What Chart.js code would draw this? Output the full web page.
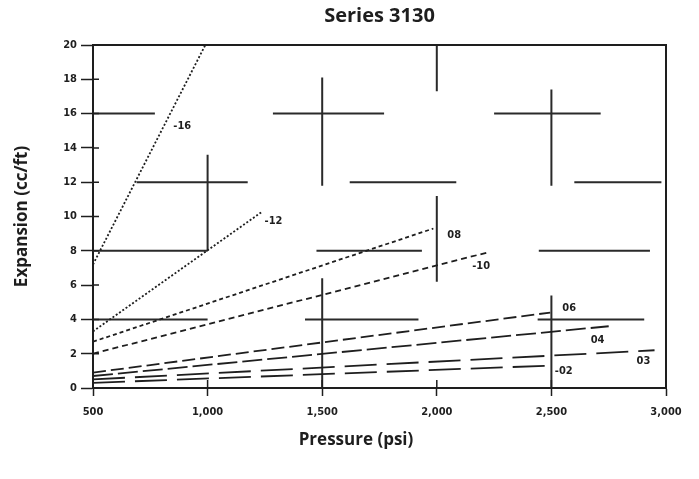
<!DOCTYPE html>
<html>
<head>
<meta charset="utf-8">
<script src="https://cdn.jsdelivr.net/npm/chart.js@4.4.0/dist/chart.umd.min.js"></script>
<style>
html, body { margin: 0; padding: 0; background: #fff; }
#wrap { width: 699px; height: 479px; }
</style>
</head>
<body>
<div id="wrap"><canvas id="myChart" width="699" height="479"></canvas></div>
<script>
// curves (pressure psi -> expansion cc/ft)
var curveNames = ['-16', '-12', '08', '-10', '06', '04', '03', '-02'];
var curveStartPsi = [500, 500, 500, 500, 500, 500, 500, 500];
var curveStartCc = [7.2, 3.3, 2.7, 2.0, 0.9, 0.7, 0.5, 0.3];
var curveEndPsi = [990, 1240, 1985, 2220, 2495, 2750, 2950, 2480];
var curveEndCc = [20, 10.3, 9.3, 7.9, 4.4, 3.6, 2.2, 1.3];

// leftover grid strokes of the scanned sheet
var gridHy = [16, 12, 8, 4, 16, 12, 8, 4, 16, 12, 8, 4];
var gridHx1 = [500, 690, 500, 500, 1285, 1620, 1475, 1425, 2250, 2600, 2445, 2440];
var gridHx2 = [770, 1175, 1000, 1000, 1770, 2085, 1935, 1920, 2715, 2980, 2930, 2905];
var gridVx = [1000, 1500, 2000, 2000, 2500, 1500, 2500];
var gridVy1 = [8, 11.8, 17.3, 6.2, 11.8, 0, 0];
var gridVy2 = [13.6, 18.1, 20, 11.2, 17.4, 6.4, 5.4];

var xTickValues = [500, 1000, 1500, 2000, 2500, 3000];
var xTickLabels = ['500', '1,000', '1,500', '2,000', '2,500', '3,000'];
var yTickLabels = ['0', '2', '4', '6', '8', '10', '12', '14', '16', '18', '20'];

var ink = '#1e1e1e';
var tickFont = { family: '"Liberation Sans Narrow", "DejaVu Sans Condensed", sans-serif', size: 11, weight: 'bold' };
var dashes = [[2, 2], [2, 2], [4, 3], [6, 4], [13, 5], [20, 5], [32, 10], [32, 10]];
// label offsets from each curve's end point, in pixels
var labelOffsets = [[-32, 81], [2, 10], [14, 7], [-15, 14], [12, -4], [-18, 14], [-18, 11], [8, 5]];

var datasets = [];
for (var i = 0; i < curveNames.length; i++) {
    datasets.push({
        label: curveNames[i],
        data: [{ x: curveStartPsi[i], y: curveStartCc[i] }, { x: curveEndPsi[i], y: curveEndCc[i] }],
        showLine: true,
        borderColor: ink,
        borderWidth: 1.8,
        borderDash: dashes[i],
        pointRadius: 0
    });
}

var gridPts = [];
for (var h = 0; h < gridHy.length; h++) {
    gridPts.push({ x: gridHx1[h], y: gridHy[h] }, { x: gridHx2[h], y: gridHy[h] }, { x: gridHx2[h], y: null });
}
for (var v = 0; v < gridVx.length; v++) {
    gridPts.push({ x: gridVx[v], y: gridVy1[v] }, { x: gridVx[v], y: gridVy2[v] }, { x: gridVx[v], y: null });
}
datasets.push({
    label: 'grid',
    data: gridPts,
    showLine: true,
    spanGaps: false,
    borderColor: '#2a2a2a',
    borderWidth: 2,
    pointRadius: 0
});

var extras = {
    id: 'extras',
    afterDraw: function (chart) {
        var ctx = chart.ctx;
        var a = chart.chartArea;
        var xs = chart.scales.x, ys = chart.scales.y;
        ctx.save();
        ctx.strokeStyle = ink;
        ctx.lineWidth = 2;
        ctx.beginPath();
        ctx.moveTo(a.left, a.top);
        ctx.lineTo(a.right, a.top);
        ctx.lineTo(a.right, a.bottom);
        ctx.stroke();
        // inner half of the tick marks
        ctx.lineWidth = 1.5;
        ctx.beginPath();
        xs.ticks.forEach(function (t) {
            var px = xs.getPixelForValue(t.value);
            ctx.moveTo(px, a.bottom);
            ctx.lineTo(px, a.bottom - 8);
        });
        ys.ticks.forEach(function (t) {
            var py = ys.getPixelForValue(t.value);
            ctx.moveTo(a.left, py);
            ctx.lineTo(a.left + 6, py);
        });
        ctx.stroke();
        // curve labels
        ctx.fillStyle = ink;
        ctx.font = 'bold 11px "Liberation Sans Narrow", "DejaVu Sans Condensed", sans-serif';
        ctx.textBaseline = 'middle';
        ctx.textAlign = 'left';
        for (var i = 0; i < curveNames.length; i++) {
            var ex = xs.getPixelForValue(curveEndPsi[i]);
            var ey = ys.getPixelForValue(curveEndCc[i]);
            ctx.fillText(curveNames[i], ex + labelOffsets[i][0], ey + labelOffsets[i][1]);
        }
        // x axis title
        ctx.font = 'bold 17px "Open Sans", sans-serif';
        ctx.textAlign = 'center';
        ctx.fillText('Pressure (psi)', 356, 440);
        ctx.restore();
    }
};

const ctx = document.getElementById('myChart').getContext('2d');
const myChart = new Chart(ctx, {
    type: 'scatter',
    data: { datasets: datasets },
    options: {
        responsive: false,
        animation: false,
        layout: { padding: { left: 0, right: 33, top: 0, bottom: 0 } },
        plugins: {
            legend: { display: false },
            tooltip: { enabled: false },
            title: {
                display: true,
                fullSize: false,
                text: 'Series 3130',
                color: ink,
                font: { family: '"Open Sans", sans-serif', size: 20, weight: 'bold' },
                padding: { top: 4, bottom: 17 }
            }
        },
        scales: {
            x: {
                type: 'linear',
                min: 500,
                max: 3000,
                afterBuildTicks: function (s) {
                    s.ticks = xTickValues.map(function (v) { return { value: v }; });
                },
                afterFit: function (s) { s.height = 91; },
                ticks: {
                    color: ink,
                    font: tickFont,
                    padding: 10,
                    maxRotation: 0,
                    callback: function (val, idx) { return xTickLabels[idx]; }
                },
                grid: { drawOnChartArea: false, tickLength: 8, color: ink, tickWidth: 1.5 },
                border: { color: ink, width: 2 }
            },
            y: {
                min: 0,
                max: 20,
                afterFit: function (s) { s.width = 93; },
                ticks: {
                    stepSize: 2,
                    color: ink,
                    font: tickFont,
                    padding: 4,
                    callback: function (val, idx) { return yTickLabels[idx]; }
                },
                grid: { drawOnChartArea: false, tickLength: 12, color: ink, tickWidth: 1.5 },
                border: { color: ink, width: 2 },
                title: {
                    display: true,
                    text: 'Expansion (cc/ft)',
                    color: ink,
                    font: { family: '"Open Sans", sans-serif', size: 17, weight: 'bold' },
                    padding: { top: 12, bottom: 0 }
                }
            }
        }
    },
    plugins: [extras]
});
</script>
</body>
</html>
